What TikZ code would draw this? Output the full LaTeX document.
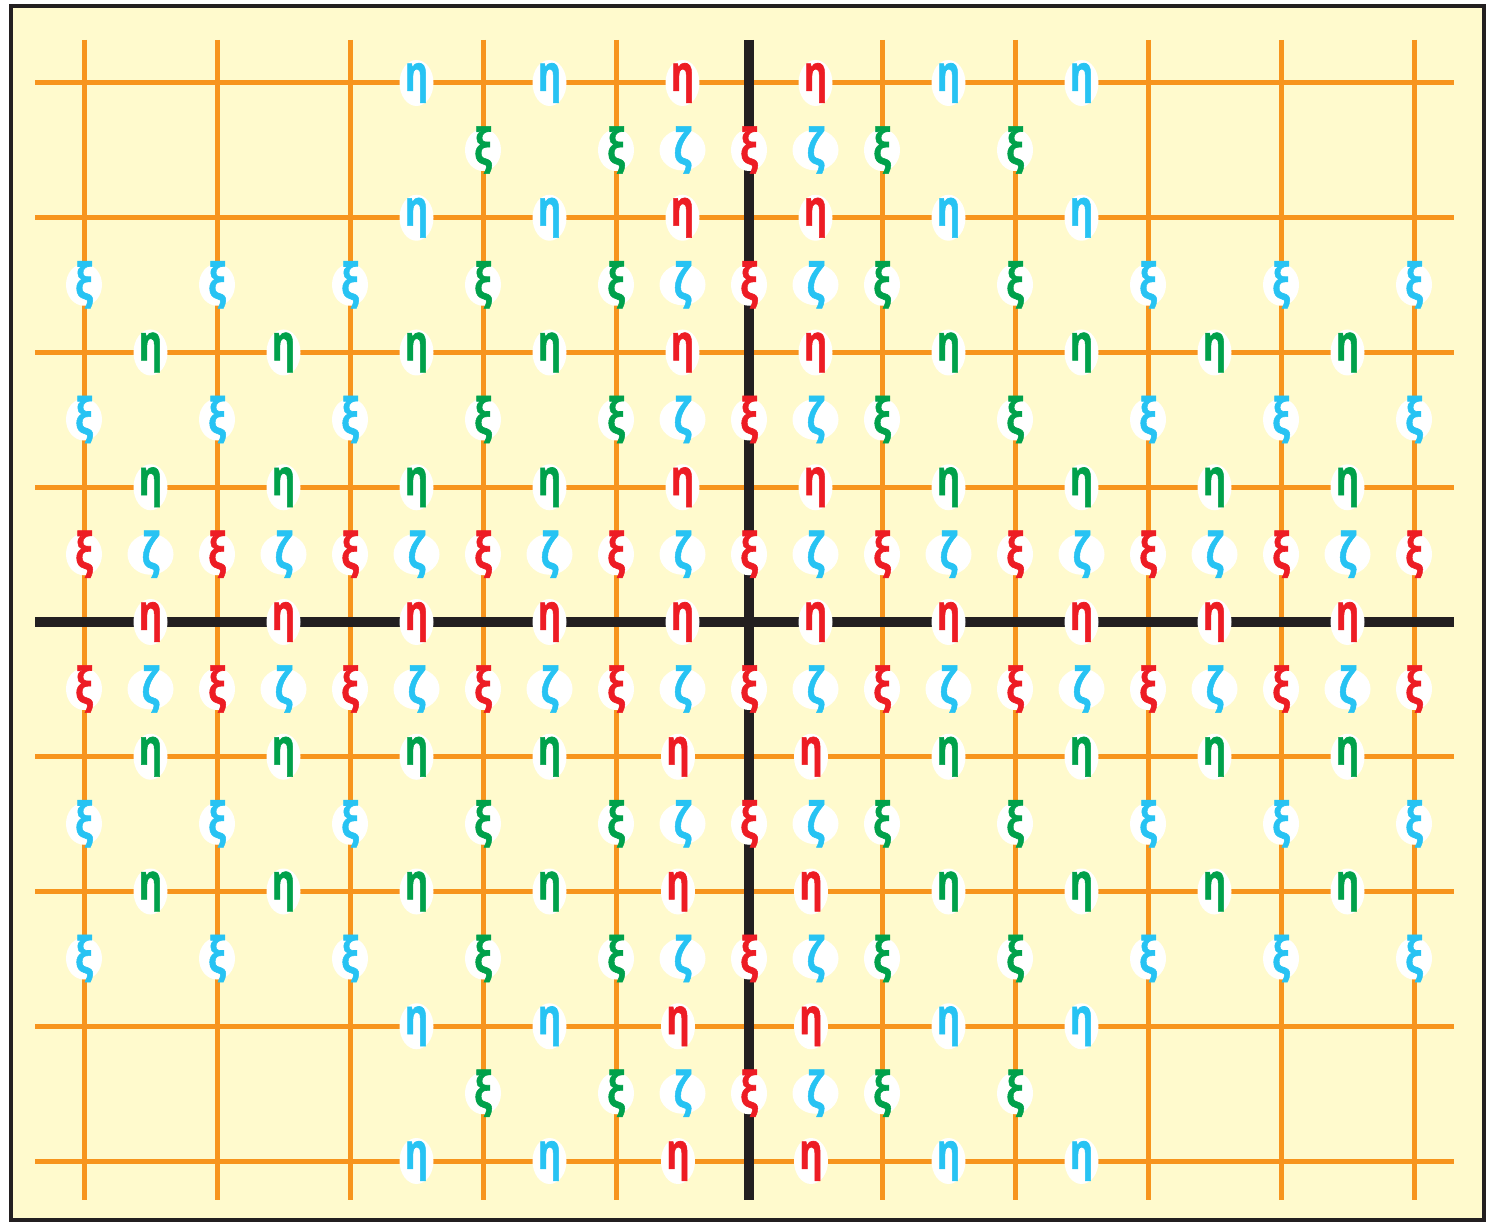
\documentclass[tikz,border=0pt]{standalone}
\usepackage{fontspec}
\usepackage{graphicx}
\setmainfont{Open Sans}
\newfontfamily\glfont{Open Sans}[BoldFeatures={FakeBold=1.3}]
\usetikzlibrary{shapes.geometric}
\definecolor{bgyel}{HTML}{FFFACD}
\definecolor{frameblk}{HTML}{231F20}
\definecolor{gridor}{HTML}{F7941D}
\definecolor{gcyan}{HTML}{27C3F3}
\definecolor{ggreen}{HTML}{00A14B}
\definecolor{gred}{HTML}{ED1C24}
\newcommand{\glyphtxt}[1]{\scalebox{0.72}[1]{\fontsize{50}{50}\glfont\bfseries #1}}
\newcommand{\glab}[5]{%
  \node[#5] (#1) at (#2) {};
  \node[text=#3, inner sep=0pt] (#1-t) at (#1.center) {\glyphtxt{#4}};}
\tikzset{
  gridline/.style={draw=gridor, line width=5pt},
  axisline/.style={draw=frameblk, line width=10pt},
  bge/.style={ellipse, fill=white, inner sep=0pt, minimum width=34pt, minimum height=46pt},
  bgx/.style={ellipse, fill=white, inner sep=0pt, minimum width=36pt, minimum height=42pt},
  bgz/.style={ellipse, fill=white, inner sep=0pt, minimum width=46pt, minimum height=41pt},
}
\begin{document}
\begin{tikzpicture}[x=1pt,y=-1pt]
\useasboundingbox (0,0) rectangle (1486,1222);
\draw[fill=bgyel, draw=frameblk, line width=4pt] (11,6) rectangle (1484,1220);
% grid
\foreach \j in {0,1,2,3,5,6,7,8} {
  \draw[gridline] (35,{83+134.75*\j}) -- (1454,{83+134.75*\j});
}
\foreach \i in {0,1,2,3,4,6,7,8,9,10} {
  \draw[gridline] ({84+133*\i},40) -- ({84+133*\i},1200);
}
\draw[axisline] (35,622) -- (1454,622);
\draw[axisline] (749,40) -- (749,1200);
% eta labels
\foreach \j in {0,1,7,8} \foreach \k in {2,3,6,7} {
  \glab{eta-\j-\k}{{150.5+133*\k},{83+134.75*\j}}{gcyan}{η}{bge}
}
\foreach \j in {2,3,5,6} \foreach \k in {0,1,2,3,6,7,8,9} {
  \glab{eta-\j-\k}{{150.5+133*\k},{83+134.75*\j}}{ggreen}{η}{bge}
}
\foreach \j in {0,1,2,3} \foreach \k in {4,5} {
  \glab{eta-\j-\k}{{150.5+133*\k},{83+134.75*\j}}{gred}{η}{bge}
}
\foreach \j in {5,6,7,8} \foreach \k in {4,5} {
  \glab{eta-\j-\k}{{146+133*\k},{83+134.75*\j}}{gred}{η}{bge}
}
\foreach \k in {0,...,9} {
  \glab{eta-4-\k}{{150.5+133*\k},622}{gred}{η}{bge}
}
% xi labels
\foreach \m in {0,1,2,5,6,7} \foreach \i in {3,4,6,7} {
  \glab{xi-\m-\i}{{84+133*\i},{150+134.75*\m}}{ggreen}{ξ}{bgx}
}
\foreach \m in {1,2,5,6} \foreach \i in {0,1,2,8,9,10} {
  \glab{xi-\m-\i}{{84+133*\i},{150+134.75*\m}}{gcyan}{ξ}{bgx}
}
\foreach \m in {0,1,2,5,6,7} {
  \glab{xi-\m-5}{749,{150+134.75*\m}}{gred}{ξ}{bgx}
}
\foreach \m in {3,4} \foreach \i in {0,...,10} {
  \glab{xi-\m-\i}{{84+133*\i},{150+134.75*\m}}{gred}{ξ}{bgx}
}
% zeta labels
\foreach \m in {0,1,2,5,6,7} \foreach \k in {4,5} {
  \glab{zeta-\m-\k}{{150.5+133*\k},{150+134.75*\m}}{gcyan}{ζ}{bgz}
}
\foreach \m in {3,4} \foreach \k in {0,...,9} {
  \glab{zeta-\m-\k}{{150.5+133*\k},{150+134.75*\m}}{gcyan}{ζ}{bgz}
}
\end{tikzpicture}
\end{document}
